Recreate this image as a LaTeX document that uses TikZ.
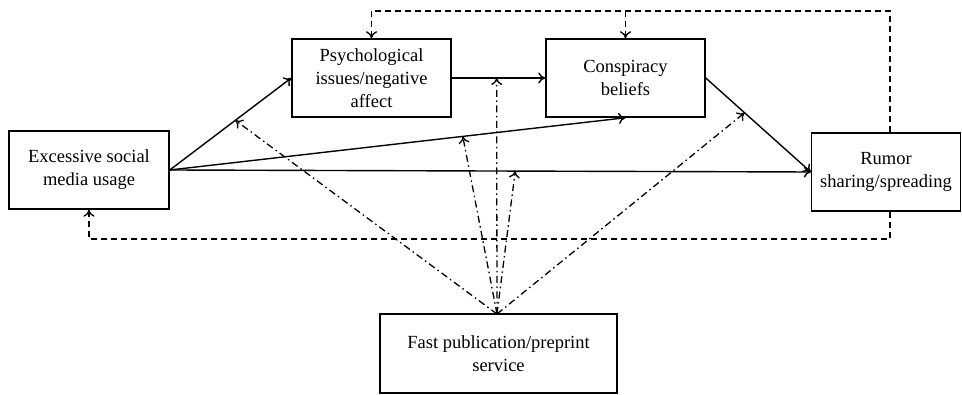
\documentclass[tikz,border=0pt]{standalone}
\usepackage{fontspec}
\setmainfont{Liberation Serif}
\usetikzlibrary{arrows.meta}
\begin{document}
\begin{tikzpicture}[x=1pt,y=-1pt,
  box/.style={draw,line width=1.5pt,rectangle,align=center,inner sep=2pt,
    font=\fontsize{18.5}{23}\selectfont},
  tip/.style={-{To[length=7pt,width=11pt]}},
  arr/.style={line width=1.4pt,tip},
  dsh/.style={line width=1.3pt,dash pattern=on 6pt off 4pt,tip},
  dd/.style={line width=1.3pt,dash pattern=on 7pt off 3.5pt on 1.5pt off 3.5pt,tip}]
\useasboundingbox (0,0) rectangle (962,395);
\node[box,minimum width=160pt,minimum height=78pt] (ex) at (89,170) {Excessive social\\media usage};
\node[box,minimum width=159pt,minimum height=78pt] (ps) at (371.5,78) {Psychological\\issues/negative\\affect};
\node[box,minimum width=159pt,minimum height=78pt] (co) at (625.5,78) {Conspiracy\\beliefs};
\node[box,minimum width=149pt,minimum height=78pt] (ru) at (886,172) {Rumor\\sharing/spreading};
\node[box,minimum width=237pt,minimum height=79pt] (fp) at (498.5,353.5) {Fast publication/preprint\\service};
% direct paths
\draw[arr] (ex.east) -- coordinate[pos=0.54] (m1) (ps.west);
\draw[arr] (ps.east) -- coordinate[pos=0.48] (m2) (co.west);
\draw[arr] (ex.east) -- coordinate[pos=0.643] (m3) (co.south);
\draw[arr] (ex.east) -- coordinate[pos=0.539] (m4) (ru.west);
\draw[arr] (co.east) -- coordinate[pos=0.37] (m5) (ru.west);
% feedback dashed loops
\coordinate (tr) at (890,11);
\coordinate (br) at (890,239);
\draw[dsh] ([xshift=4pt]ru.north) -- (tr) -| (ps.north);
\draw[dsh] (co.north |- tr) -- (co.north);
\draw[dsh] ([xshift=4pt]ru.south) -- (br) -| (ex.south);
% moderating effects
\coordinate (src) at (497,314);
\draw[dd] (src) -- (m1);
\draw[dd] (src) -- (m3);
\draw[dd] (src) -- (m2);
\draw[dd] (src) -- (m4);
\draw[dd] (src) -- (m5);
\end{tikzpicture}
\end{document}
